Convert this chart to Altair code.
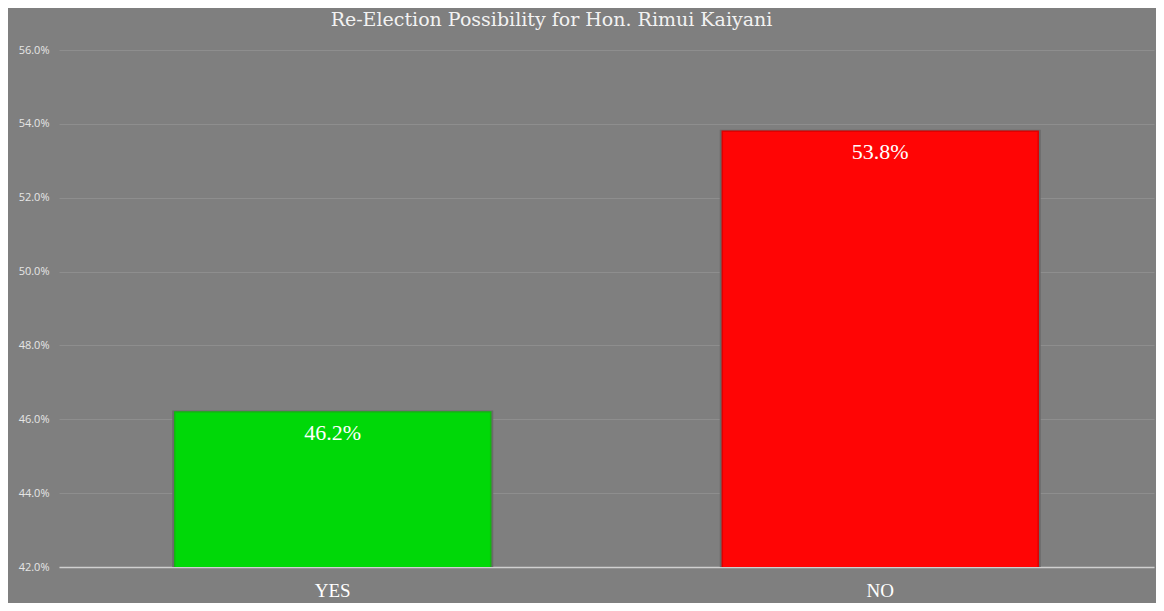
import altair as alt
import pandas as pd

categories = ["YES", "NO"]
values = [0.462, 0.538]
bar_colors = ["#00d808", "#ff0505"]
edge_colors = ["#11b811", "#e00000"]

df = pd.DataFrame({"choice": categories, "share": values})

x_scale = alt.Scale(domain=categories, paddingInner=0.423, paddingOuter=0.2115)
y_scale = alt.Scale(domain=[0.42, 0.56], zero=False, nice=False)

x_enc = alt.X(
    "choice:N",
    sort=categories,
    title=None,
    scale=x_scale,
    axis=alt.Axis(
        labelAngle=0,
        labelFont="Liberation Serif",
        labelFontSize=19,
        labelColor="#ffffff",
        labelPadding=14,
        ticks=False,
        domain=True,
        domainColor="#d0d0d0",
        domainWidth=1.5,
        grid=False,
    ),
)

y_enc = alt.Y(
    "share:Q",
    scale=y_scale,
    title=None,
    axis=alt.Axis(
        format=".1%",
        values=[0.42, 0.44, 0.46, 0.48, 0.50, 0.52, 0.54, 0.56],
        labelFont="Open Sans",
        labelFontSize=11,
        labelColor="#e6e6e6",
        labelPadding=10,
        ticks=False,
        domain=False,
        grid=True,
        gridColor="#8e8e8e",
        gridWidth=1,
    ),
)

shadow = alt.Chart(df).mark_bar(
    clip=True, size=321, color="#6a6a6a", yOffset=-1.5
).encode(x=x_enc, y=y_enc)

bars = alt.Chart(df).mark_bar(clip=True, strokeWidth=1.5).encode(
    x=alt.X("choice:N", sort=categories, scale=x_scale),
    y=alt.Y("share:Q", scale=y_scale),
    color=alt.Color("choice:N", scale=alt.Scale(domain=categories, range=bar_colors), legend=None),
    stroke=alt.Stroke("choice:N", scale=alt.Scale(domain=categories, range=edge_colors), legend=None),
)

labels = alt.Chart(df).mark_text(
    font="Liberation Serif",
    fontSize=22,
    color="#ffffff",
    baseline="top",
    dy=11,
).encode(
    x=alt.X("choice:N", sort=categories, scale=x_scale),
    y=alt.Y("share:Q", scale=y_scale),
    text=alt.Text("share:Q", format=".1%"),
)

chart = (
    alt.layer(shadow, bars, labels)
    .properties(
        width=1095,
        height=517,
        background="#7f7f7f",
        padding={"left": 51, "top": 42, "right": 2, "bottom": 36},
        autosize=alt.AutoSizeParams(type="none"),
        title=alt.TitleParams(
            "Re-Election Possibility for Hon. Rimui Kaiyani",
            font="DejaVu Serif",
            fontSize=19,
            fontWeight="normal",
            color="#f2f2f2",
            anchor="middle",
            dx=-55,
            offset=14,
        ),
    )
    .configure_view(stroke=None)
)

chart.save("out.html", embed_options={"renderer": "svg", "actions": False})
